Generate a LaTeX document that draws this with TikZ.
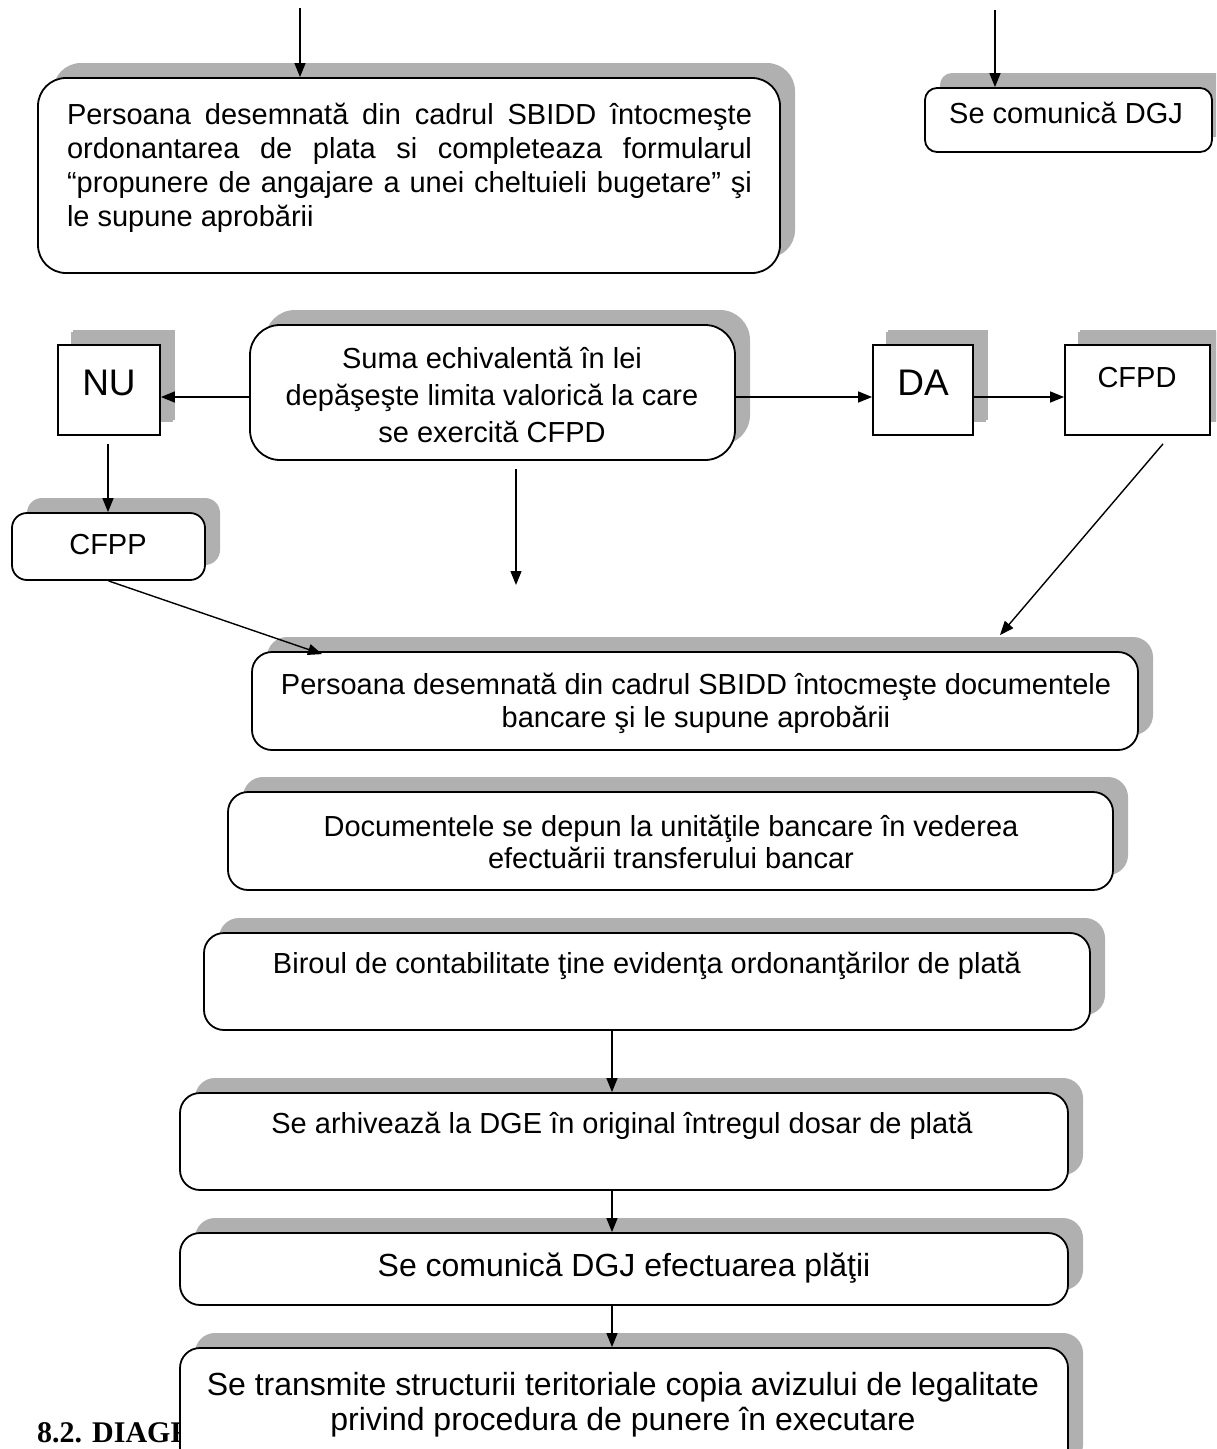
\documentclass[tikz,border=0pt]{standalone}
\usepackage{fontspec}
\setmainfont{Liberation Sans}
\newfontfamily\serifbold{Liberation Serif}
\usetikzlibrary{shadows,arrows.meta,calc}
\begin{document}
\begin{tikzpicture}[x=1pt,y=-1pt,
  shbox/.style={draw=black, line width=1.8pt, fill=white, inner sep=0pt,
    general shadow={fill=gray!62, shadow xshift=15pt, shadow yshift=15pt}},
  rbox/.style={shbox, rounded corners=#1},
  arr/.style={-{Triangle[length=14pt,width=11pt]}, line width=1.4pt},
  tA/.style={font=\fontsize{29}{34}\selectfont, align=center, inner sep=0pt},
  tB/.style={font=\fontsize{32}{35}\selectfont, align=center, inner sep=0pt},
  tC/.style={font=\fontsize{37}{40}\selectfont, inner sep=0pt},
]
\useasboundingbox (0,0) rectangle (1216,1449);
\fill[white] (0,0) rectangle (1216,1449);
\clip (0,0) rectangle (1216,1449);

% heading partly covered by the last box
\node[anchor=base west, inner sep=0pt, font=\serifbold\bfseries\fontsize{30}{36}\selectfont] (hd) at (37,1442) {8.2. DIAGR};

% top row
\node[rbox=28pt, minimum width=742pt, minimum height=195pt] (b1) at (409,175.5) {};
\node[inner sep=0pt, text width=685pt, align=justify, font=\fontsize{29}{34}\selectfont] (b1t) at (409.5,168)
  {Persoana desemnată din cadrul SBIDD întocmeşte\linebreak ordonantarea de plata si completeaza formularul\linebreak “propunere de angajare a unei cheltuieli bugetare” şi\linebreak le supune aprobării};

\node[rbox=12pt, minimum width=287pt, minimum height=64pt] (dgj) at (1068.5,120) {};
\node[tA] (dgjt) at (1066,113) {Se comunică DGJ};

% decision row
\node[rbox=30pt, minimum width=485pt, minimum height=135pt] (suma) at (492.5,392.5) {};
\node[tA, font=\fontsize{29}{37}\selectfont] (sumat) at (492,395) {Suma echivalentă în lei\\depăşeşte limita valorică la care\\se exercită CFPD};

\node[shbox, minimum width=102pt, minimum height=90pt, general shadow={fill=gray!62, shadow xshift=13pt, shadow yshift=13pt}] (nu) at (109,390) {};
\node[tC] (nut) at (109,383) {NU};
\node[shbox, minimum width=100pt, minimum height=90pt, general shadow={fill=gray!62, shadow xshift=13pt, shadow yshift=13pt}] (da) at (923,390) {};
\node[tC] (dat) at (923,383) {DA};
\node[shbox, minimum width=145pt, minimum height=90pt, general shadow={fill=gray!62, shadow xshift=13pt, shadow yshift=13pt}] (cfpd) at (1137.5,390) {};
\node[tA] (cfpdt) at (1137,378) {CFPD};

\node[rbox=15pt, minimum width=193pt, minimum height=67pt] (cfpp) at (108.5,546.5) {};
\node[tA] (cfppt) at (108,545) {CFPP};

% lower chain
\node[rbox=20pt, minimum width=886pt, minimum height=98pt] (pd) at (695,701) {};
\node[tA, font=\fontsize{29}{33}\selectfont] (pdt) at (696,703) {Persoana desemnată din cadrul SBIDD întocmeşte documentele\\bancare şi le supune aprobării};

\node[rbox=20pt, minimum width=885pt, minimum height=98pt] (doc) at (670.5,841) {};
\node[tA, font=\fontsize{29}{32}\selectfont] (doct) at (671,842) {Documentele se depun la unităţile bancare în vederea\\efectuării transferului bancar};

\node[rbox=20pt, minimum width=886pt, minimum height=97pt] (birou) at (647,981.5) {};
\node[tA] (birout) at (647,966) {Biroul de contabilitate ţine evidenţa ordonanţărilor de plată};

\node[rbox=20pt, minimum width=888pt, minimum height=97pt] (arh) at (624,1141.5) {};
\node[tA] (arht) at (622,1126) {Se arhivează la DGE în original întregul dosar de plată};

\node[rbox=20pt, minimum width=888pt, minimum height=72pt] (dgj2) at (624,1269) {};
\node[tB] (dgj2t) at (624,1268) {Se comunică DGJ efectuarea plăţii};

\node[rbox=20pt, minimum width=888pt, minimum height=132pt] (last) at (624,1414) {};
\node[tB] (lastt) at (623,1405) {Se transmite structurii teritoriale copia avizului de legalitate\\privind procedura de punere în executare};

% connectors
\coordinate (t1s) at (300,8);
\coordinate (t2s) at (995,10);
\draw[arr] (t1s) -- (t1s |- b1.north);
\draw[arr] (t2s) -- (t2s |- dgj.north);

\coordinate (ya) at (0,397);
\draw[arr] (suma.west |- ya) -- (nu.east |- ya);
\draw[arr] (suma.east |- ya) -- (da.west |- ya);
\draw[arr] (da.east |- ya) -- (cfpd.west |- ya);

\coordinate (xn) at (108,0);
\draw[arr] ($(nu.south -| xn)+(0,8)$) -- (cfpp.north -| xn);

\coordinate (sd) at (516,585);
\draw[arr] ($(suma.south -| sd)+(0,8)$) -- (sd);

\coordinate (xc) at (1163,0);
\coordinate (xe) at (1000,0);
\draw[arr] ($(cfpd.south -| xc)+(0,8)$) -- ($(pd.north -| xe)+(0,-16)$);

\coordinate (xp) at (322,0);
\draw[arr] (cfpp.south) -- ($(pd.north -| xp)+(0,3)$);

\coordinate (xv) at (612,0);
\draw[arr] (birou.south -| xv) -- (arh.north -| xv);
\draw[arr] (arh.south -| xv) -- (dgj2.north -| xv);
\draw[arr] (dgj2.south -| xv) -- (last.north -| xv);
\end{tikzpicture}
\end{document}
